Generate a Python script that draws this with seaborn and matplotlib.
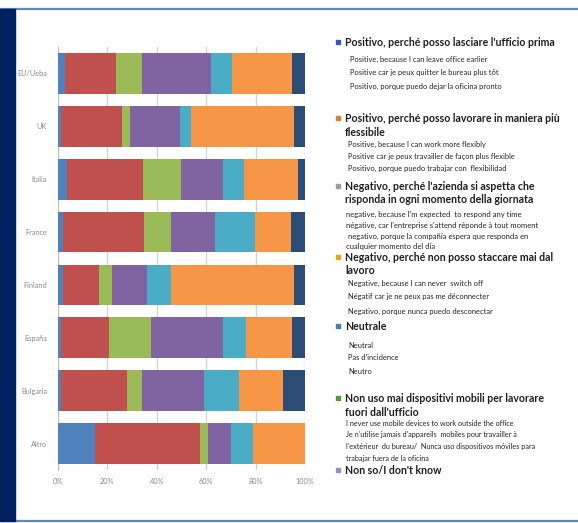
import matplotlib
matplotlib.use("Agg")
import matplotlib.pyplot as plt
from matplotlib.patches import Rectangle
from matplotlib.lines import Line2D
import numpy as np
import pandas as pd
import seaborn as sns

# Countries (top to bottom)
countries = ["EU/Ueba", "UK", "Italia", "France", "Finland", "España", "Bulgaria", "Altro"]

# Share of answers per country (%), one list per stacked segment, left to right
seg_blue = [2.9, 1.2, 3.6, 1.9, 1.9, 1.2, 1.2, 15.1]
seg_red = [20.6, 24.6, 30.8, 33.1, 14.7, 19.4, 26.9, 42.2]
seg_green = [10.4, 3.4, 15.3, 10.9, 5.2, 17.2, 5.8, 3.5]
seg_purple = [28.1, 20.0, 17.3, 17.8, 14.3, 29.2, 25.1, 9.1]
seg_teal = [8.5, 4.7, 8.5, 15.9, 9.7, 9.1, 14.4, 9.1]
seg_orange = [24.4, 41.8, 21.7, 14.9, 49.9, 18.8, 17.6, 21.0]
seg_navy = [5.1, 4.3, 2.8, 5.5, 4.3, 5.1, 9.0, 0.0]

segments = [seg_blue, seg_red, seg_green, seg_purple, seg_teal, seg_orange, seg_navy]
seg_colors = ["#4F81BD", "#C0504D", "#9BBB59", "#8064A2", "#4BACC6", "#F79646", "#2C4D75"]

# Legend entries: (marker colour, header lines, translation lines)
legend_items = [
    ("#3558A8", ["Positivo, perché posso lasciare l'ufficio prima"],
     ["Positive, because I can leave office earlier",
      "Positive car je peux quitter le bureau plus tôt",
      "Positivo, porque puedo dejar la oficina pronto"]),
    ("#E07B30", ["Positivo, perché posso lavorare in maniera più", "flessibile"],
     ["Positive, because I can work more flexibly",
      "Positive car je peux travailler de façon plus flexible",
      "Positivo, porque puedo trabajar con  flexibilidad"]),
    ("#9C9C9C", ["Negativo, perché l'azienda si aspetta che",
                 "risponda in ogni momento della giornata"],
     ["negative, because I'm expected  to respond any time",
      "négative, car l'entreprise s'attend réponde à tout moment",
      " negativo, porque la compañía espera que responda en",
      "cualquier momento del día"]),
    ("#E5A812", ["Negativo, perché non posso staccare mai dal", "lavoro"],
     ["Negative, because I can never  switch off",
      "Négatif car je ne peux pas me déconnecter",
      "Negativo, porque nunca puedo desconectar"]),
    ("#3F7FC4", ["Neutrale"],
     ["Neutral", "Pas d'incidence", "Neutro"]),
    ("#4E9A3A", ["Non uso mai dispositivi mobili per lavorare", "fuori dall'ufficio"],
     ["I never use mobile devices to work outside the office",
      "Je n'utilise jamais d'appareils  mobiles pour travailler à",
      "l'extérieur  du bureau/  Nunca uso dispositivos móviles para",
      "trabajar fuera de la oficina"]),
    ("#8C90D8", ["Non so/I don't know"], []),
]

sns.set_theme(style="white")
plt.rcParams["font.family"] = ["Lato", "DejaVu Sans"]

W, H = 578, 523
fig = plt.figure(figsize=(W / 100, H / 100), dpi=100)
fig.patch.set_facecolor("white")


def fx(px):
    return px / W


def fy(py):
    return 1 - py / H


ax = fig.add_axes([fx(58), fy(470), fx(305) - fx(58), fy(47) - fy(470)])

# Stacked bars: draw cumulative totals from the right-most segment backwards
cum = np.cumsum(np.array(segments), axis=0)
for i in range(len(segments) - 1, -1, -1):
    df = pd.DataFrame({"country": countries, "value": cum[i]})
    sns.barplot(data=df, x="value", y="country", orient="h", color=seg_colors[i],
                saturation=1, width=0.77, linewidth=0, ax=ax, zorder=3)

ax.set_xlim(0, 100)
ax.set_ylim(7.5, -0.5)
ax.set_xticks(np.arange(0, 101, 20))
ax.set_xticklabels([f"{t}%" for t in range(0, 101, 20)])
ax.set_xlabel("")
ax.set_ylabel("")
ax.grid(axis="x", color="#D4D4D4", linewidth=1.0, zorder=0)
ax.set_axisbelow(True)
for s in ["top", "right", "bottom"]:
    ax.spines[s].set_visible(False)
ax.spines["left"].set_color("#BFBFBF")
ax.spines["left"].set_linewidth(0.8)
ax.tick_params(axis="both", length=0, labelsize=5.3, colors="#8C8C8C", pad=8)
ax.tick_params(axis="x", pad=6)

# Page frame: top and bottom rules and a dark stripe on the left
fig.add_artist(Line2D([0, 1], [fy(9), fy(9)], color="#5B86C0", linewidth=1.6,
                      transform=fig.transFigure))
fig.add_artist(Line2D([0, 1], [fy(521), fy(521)], color="#5B86C0", linewidth=1.6,
                      transform=fig.transFigure))
fig.add_artist(Rectangle((0, fy(521)), fx(15), fy(9) - fy(521), color="#002060",
                         transform=fig.transFigure, zorder=5))

# Multilingual legend
header_y = [42, 118, 186, 257, 326, 398, 470]
sub_offsets = [[17, 30, 44], [26, 38, 50], [28, 39, 50, 60], [26, 40, 54],
               [20, 32, 45], [25, 37, 49, 61], []]
sub_sizes = [5.45, 5.45, 5.5, 5.45, 5.45, 5.2, 5.45]
sub_x = [350, 348, 346, 348, 348, 346, 348]
for k, (col, heads, subs) in enumerate(legend_items):
    y0 = header_y[k]
    fig.add_artist(Rectangle((fx(336), fy(y0 + 2)), fx(4), fy(y0 - 2) - fy(y0 + 2),
                             color=col, transform=fig.transFigure))
    for j, line in enumerate(heads):
        fig.text(fx(345), fy(y0 + 14 * j), line, fontsize=7.6, fontweight="bold",
                 color="#1F1F1F", va="center", ha="left")
    for j, line in enumerate(subs):
        fig.text(fx(sub_x[k]), fy(y0 + sub_offsets[k][j]), line, fontsize=sub_sizes[k],
                 color="#262626", va="center", ha="left")

fig.savefig("out.png", dpi=100, facecolor="white")
